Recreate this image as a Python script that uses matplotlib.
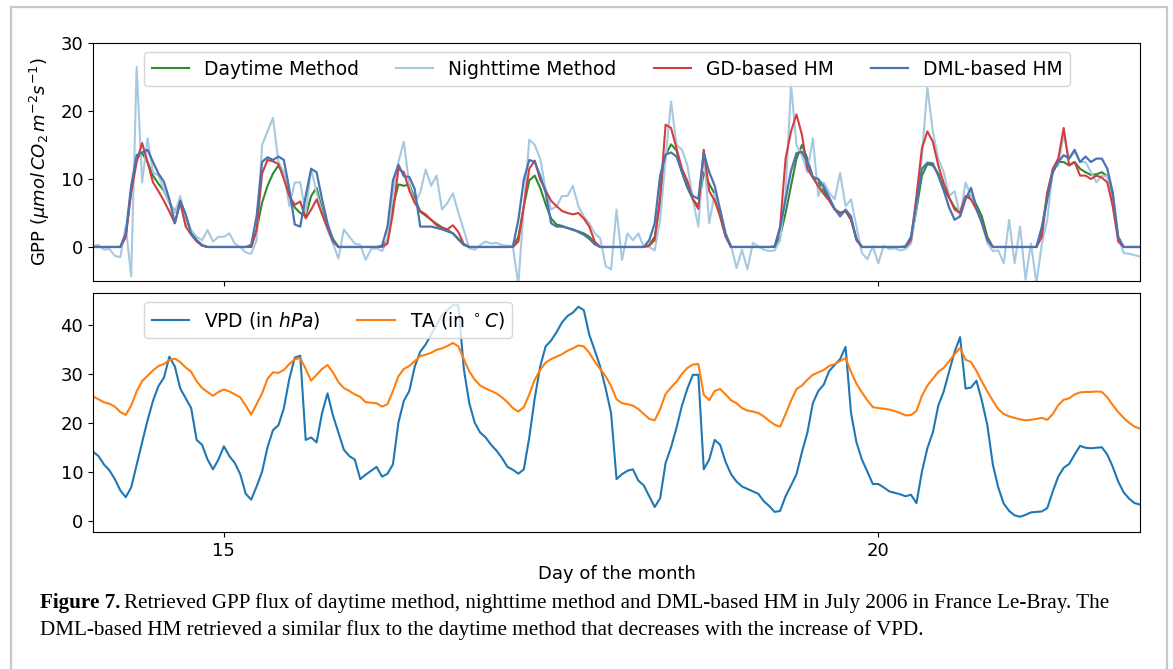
import numpy as np
import matplotlib
matplotlib.use("Agg")
import matplotlib.pyplot as plt
from matplotlib.patches import Rectangle

# hourly values, one row per day (14th ... 21st), last value = 22nd 00:00
daytime_gpp = [
    0, 0, 0, 0, 0, 0, 1.5, 8.5, 13, 13.8, 12.5, 10.5, 9.3, 8.3, 6.5, 5.2, 6.8, 4.5, 2.3, 1, 0.2, 0, 0, 0,
    0, 0, 0, 0, 0, 0, 2.5, 6.5, 9, 10.8, 12, 10.5, 7.5, 5.8, 5, 4.5, 7.5, 8.7, 5.5, 3, 1.2, 0, 0, 0,
    0, 0, 0, 0, 0, 0, 1, 6, 9.2, 9, 9.2, 7.2, 5.2, 4.6, 4, 3.4, 2.9, 2.5, 2, 1.1, 0.3, 0, 0, 0,
    0, 0, 0, 0, 0, 0, 1.5, 6, 9.8, 10.5, 8.7, 6.3, 4.2, 3.3, 3.1, 2.8, 2.5, 2.3, 2, 1.5, 0.6, 0, 0, 0,
    0, 0, 0, 0, 0, 0, 0.3, 1.5, 6.5, 13.5, 15.1, 14.2, 11, 8.7, 7, 6, 11, 9.3, 7.8, 4.5, 1.5, 0, 0, 0,
    0, 0, 0, 0, 0, 0, 1.5, 5, 9, 13, 15, 13, 10.2, 9.5, 8.3, 7, 5.6, 5, 5.3, 4, 1.2, 0, 0, 0,
    0, 0, 0, 0, 0, 0, 1, 5.5, 10.5, 12.2, 12, 10.8, 8.6, 7.2, 5.8, 5.2, 7.2, 7.6, 6.2, 4.5, 1.5, 0, 0, 0,
    0, 0, 0, 0, 0, 0, 2.5, 8, 11, 12.5, 12.5, 12, 12.5, 11.5, 11, 10.6, 10.7, 11, 10.4, 7, 1.2, 0, 0, 0,
    0]

nighttime_gpp = [
    0.2, 0.3, -0.4, -0.3, -1.3, -1.5, 3, -4.3, 26.5, 9.5, 16, 11, 10.5, 8.5, 6.5, 5, 7.5, 3.5, 2.5, 1.5, 1, 2.5, 0.8, 1.5,
    1.5, 2, 0.5, 0, -0.8, -1, 1, 15, 17, 19, 12.5, 11, 6, 9.5, 9.5, 5, 11.5, 8, 5, 2.5, 0.5, -1.7, 2.6, 1.5,
    0.5, 0.3, -1.9, -0.3, -0.2, -0.6, 1, 8, 12.5, 15.5, 9, 6.5, 8, 11.4, 9, 10.5, 5.5, 6.5, 7.9, 5, 2.5, -0.2, -0.4, 0.3,
    0.8, 0.5, 0.6, 0.3, 0.2, 0, -5.5, 6, 15.8, 15, 13, 8.5, 5.5, 6, 7.5, 7.5, 9, 6, 4.5, 3.5, 2, 1.3, -2.8, -3.3,
    5.5, -1.9, 2, 1, 2, 0, 0, -0.5, 4, 13, 21.4, 15, 14.3, 12, 7, 3, 14, 3.5, 7.9, 5.5, 1.5, 0.2, -3.1, -0.4,
    -3.3, 0.6, 0.1, -0.4, -0.6, -0.5, 1, 8, 23.9, 15, 13.5, 11, 16, 7.5, 9.5, 8, 7, 10.9, 6, 7, 3, -0.9, -1.8, 0.1,
    -2.4, 0.2, -0.3, -0.2, -0.5, -0.3, 0.5, 6, 13.3, 23.5, 17, 13, 11, 7.5, 8.2, 4.5, 9.5, 7.5, 5.5, 3.5, 0.6, -0.6, -0.5, -2.4,
    4, -2.4, 3, -4.8, 0.5, -5.3, 0.5, 4, 11.5, 12, 16.5, 13, 14, 12.5, 12.5, 11, 9.5, 10.5, 10.4, 6, 1.5, -0.9, -1.0, -1.2,
    -1.4]

gd_gpp = [
    0, 0, 0, 0, 0, 0, 1.5, 8, 12.5, 15.3, 12.5, 9.5, 8.2, 6.8, 5.2, 3.5, 6.5, 3, 1.8, 0.8, 0.2, 0, 0, 0,
    0, 0, 0, 0, 0, 0, 2.5, 10.8, 12.8, 12.6, 12.2, 10, 7.5, 6.2, 6.7, 4.2, 5.5, 7, 4.8, 2.8, 0.8, 0, 0, 0,
    0, 0, 0, 0, 0, 0, 0.5, 5, 11.5, 11, 8.3, 6.5, 5.3, 4.8, 4, 3.2, 2.8, 2.6, 3.2, 2.2, 0.4, 0, 0, 0,
    0, 0, 0, 0, 0, 0, 0.8, 6, 11.5, 12.7, 9.9, 8.3, 6.8, 6, 5.3, 5, 4.8, 5, 4.2, 3, 0.8, 0, 0, 0,
    0, 0, 0, 0, 0, 0, 0.2, 1, 7.5, 18, 17.5, 14.5, 11.5, 9.7, 7, 5.6, 14.3, 8.2, 6.8, 4.5, 1.6, 0, 0, 0,
    0, 0, 0, 0, 0, 0, 3, 13, 17, 19.5, 16.5, 11.5, 10.2, 8.9, 7.8, 6.8, 5.5, 5, 5.3, 4, 1.2, 0, 0, 0,
    0, 0, 0, 0, 0, 0, 1, 7.5, 14.5, 17, 15.5, 12, 9.4, 7.3, 5.5, 5, 7.5, 7, 5.5, 3.7, 1.2, 0, 0, 0,
    0, 0, 0, 0, 0, 0, 1.5, 8, 11.5, 13, 17.5, 12, 12.5, 10.5, 10.5, 10, 10.5, 10.2, 9.5, 6, 0.8, 0, 0, 0,
    0]

dml_gpp = [
    0, 0, 0, 0, 0, 0, 2, 9, 13.5, 13.9, 14.3, 12.5, 10.8, 9.6, 7, 3.5, 6.8, 4.8, 1.9, 1, 0.3, 0, 0, 0,
    0, 0, 0, 0, 0, 0.3, 4.5, 12.5, 13.2, 12.8, 13.3, 12.8, 8.5, 3.3, 3, 7.5, 11.5, 11, 7, 3.5, 1, 0, 0, 0,
    0, 0, 0, 0, 0, 0.2, 3, 9.8, 12.1, 10.4, 10.3, 8.5, 3, 3, 3, 2.8, 2.6, 2.3, 2, 1.2, 0.4, 0, 0, 0,
    0, 0, 0, 0, 0, 0.1, 4, 9.9, 12.8, 12.5, 10.5, 8, 3.5, 3, 3, 2.8, 2.6, 2.2, 1.8, 1.2, 0.4, 0, 0, 0,
    0, 0, 0, 0, 0, 0, 1, 3.5, 10.5, 13.6, 13.9, 13.3, 11, 8.8, 7.5, 7.1, 13.8, 11, 9, 5.5, 2, 0, 0, 0,
    0, 0, 0, 0, 0, 0.1, 2.8, 7, 11.2, 13.8, 14, 12.5, 10.3, 10, 8.9, 7.3, 5.6, 4.5, 5.5, 4.5, 1, 0, 0, 0,
    0, 0, 0, 0, 0, 0.1, 1.5, 6.5, 11.5, 12.4, 12.3, 10.5, 8.3, 5.8, 4, 4.5, 7, 8.7, 5.8, 3.5, 1, 0, 0, 0,
    0, 0, 0, 0, 0, 0, 3, 7, 11, 12.5, 13.5, 13, 14.3, 12.5, 13.3, 12.5, 13, 13, 11.5, 8, 1.5, 0, 0, 0,
    0]

vpd = [
    14.1, 13.2, 11.5, 10.3, 8.5, 6.2, 4.8, 6.8, 11.4, 16, 20.5, 24.5, 27.5, 29.2, 33.5, 31.5, 27, 25, 23, 16.5, 15.5, 12.5, 10.5, 12.5,
    15.2, 13.2, 11.8, 9.5, 5.5, 4.3, 7, 10, 15, 18.5, 19.5, 23, 29, 33.3, 33.7, 16.5, 17, 16, 22, 26, 21.5, 18, 14.5, 13.2,
    12.5, 8.5, 9.4, 10.2, 11, 9, 9.6, 11.5, 20, 24.5, 26.5, 31.5, 34.5, 36, 38, 40, 42, 43, 44, 44, 31, 24, 20, 18,
    17, 15.5, 14.3, 12.8, 11, 10.4, 9.6, 10.5, 17, 25, 31.5, 35.6, 36.8, 38.5, 40.5, 41.8, 42.5, 43.7, 43, 38, 34.8, 31.5, 27, 22,
    8.5, 9.5, 10.2, 10.5, 8.2, 7.2, 5, 2.8, 4.6, 11.8, 15, 19, 23.5, 27, 29.8, 29.8, 10.5, 12.5, 16.5, 15.5, 12, 9.5, 8, 7,
    6.5, 6, 5.5, 4, 3, 1.8, 2, 5, 7.2, 9.5, 14, 18, 24, 26.5, 27.8, 30.6, 31.8, 33, 35.5, 22, 16, 12.5, 10, 7.5,
    7.5, 6.8, 6, 5.7, 5.4, 5, 5.3, 3.6, 10, 14.8, 18, 23.5, 26.4, 30.5, 34.5, 37.5, 27, 27.2, 28.6, 24.5, 19.5, 11.5, 6.8, 3.5,
    2, 1.1, 0.8, 1.2, 1.7, 1.8, 1.9, 2.6, 6, 9, 10.8, 11.6, 13.5, 15.3, 14.9, 14.8, 14.9, 15, 13.5, 11, 8, 5.8, 4.5, 3.6,
    3.3]

ta = [
    25.4, 24.8, 24.2, 23.9, 23.3, 22.2, 21.6, 23.5, 26.4, 28.5, 29.6, 30.7, 31.6, 32, 32.8, 33.1, 32.4, 31.3, 30.4, 28.5, 27.1, 26.3, 25.5, 26.3,
    26.8, 26.4, 25.8, 25.2, 23.5, 21.7, 23.8, 26, 29, 30.3, 30.2, 30.8, 32, 33, 33.2, 31, 28.6, 29.8, 31, 31.8, 30.3, 28.3, 27.1, 26.5,
    25.8, 25.3, 24.2, 24.1, 24, 23.3, 23.8, 26.5, 29.5, 31, 31.6, 32.6, 33.6, 33.9, 34.3, 34.9, 35.2, 35.7, 36.3, 35.6, 33, 30.5, 28.8, 27.6,
    27, 26.5, 26, 25.2, 24.2, 23, 22.3, 23.2, 25.8, 28.8, 30.8, 32.3, 33, 33.5, 34, 34.7, 35.2, 35.8, 35.6, 34.3, 32.5, 31, 29.5, 27.5,
    24.8, 24, 23.8, 23.5, 22.8, 21.8, 20.8, 20.5, 22.8, 25.9, 27.2, 28.4, 30, 31.2, 31.9, 32, 25.7, 24.6, 26.5, 26.9, 25.8, 24.6, 24, 23,
    22.5, 22.3, 22, 21.3, 20.4, 19.6, 19.2, 21.8, 24.5, 26.9, 27.6, 28.8, 29.8, 30.3, 30.8, 31.6, 32, 32.6, 33.2, 30.4, 28, 26.2, 24.6, 23.2,
    23, 22.9, 22.7, 22.4, 22, 21.5, 21.6, 22.4, 25.5, 27.6, 29, 30.4, 31.2, 32.6, 34, 35.3, 32.9, 32.4, 30.6, 28.4, 26.4, 24.5, 22.8, 21.8,
    21.3, 21, 20.7, 20.5, 20.6, 20.8, 21, 20.6, 21.8, 23.6, 24.7, 25, 25.8, 26.2, 26.3, 26.3, 26.4, 26.3, 25.2, 23.6, 22.2, 21, 20, 19.2,
    18.8]

day = 14 + np.arange(len(dml_gpp)) / 24

plt.rcParams['font.size'] = 13

fig = plt.figure(figsize=(11.73, 6.69), dpi=100)
ax1 = fig.add_axes([0.0793, 0.5800, 0.8926, 0.3557])
ax2 = fig.add_axes([0.0793, 0.2048, 0.8926, 0.3572], sharex=ax1)

# --- GPP panel
ax1.plot(day, daytime_gpp, color='#2e8b2e', lw=1.5, label='Daytime Method')
ax1.plot(day, nighttime_gpp, color='#a5c9e1', lw=1.5, label='Nighttime Method')
ax1.plot(day, gd_gpp, color='#d43d3d', lw=1.5, label='GD-based HM')
ax1.plot(day, dml_gpp, color='#4c72b0', lw=1.6, label='DML-based HM')
ax1.set_ylim(-5, 30)
ax1.set_yticks([0, 10, 20, 30])
ax1.set_ylabel(r'GPP ($\mu mol\,CO_2\,m^{-2}s^{-1}$)', labelpad=6)
ax1.legend(ncol=4, loc='upper left', bbox_to_anchor=(0.040, 1.0), fontsize=13.4)
ax1.tick_params(axis='x', labelbottom=False)

# --- VPD / TA panel
ax2.plot(day, vpd, color='#1f77b4', lw=1.5, label='VPD (in $hPa$)')
ax2.plot(day, ta, color='#ff7f0e', lw=1.5, label=r'TA (in $^\circ C$)')
ax2.set_ylim(-2.3, 46.5)
ax2.set_yticks([0, 10, 20, 30, 40])
ax2.legend(ncol=2, loc='upper left', bbox_to_anchor=(0.040, 1.0), fontsize=13.4)
ax2.set_xlim(14, 22)
ax2.set_xticks([15, 20])
ax2.set_xlabel('Day of the month')

# page frame
fig.add_artist(Rectangle((0.0094, -0.02), 0.9855, 1.0095, transform=fig.transFigure,
                         fill=False, edgecolor='#c8c8c8', lw=1.6))

# caption
cap_x = 40 / 1173
cap_size = 15.2
t1 = fig.text(cap_x, 1 - 603 / 669, 'Figure 7.', family='Liberation Serif',
              weight='bold', fontsize=cap_size, va='center')
renderer = fig.canvas.get_renderer()
bb = t1.get_window_extent(renderer)
x_rest = (bb.x1 + 4) / fig.bbox.width
fig.text(x_rest, 1 - 603 / 669,
         'Retrieved GPP flux of daytime method, nighttime method and DML-based HM in July 2006 in France Le-Bray. The',
         family='Liberation Serif', fontsize=cap_size, va='center')
fig.text(cap_x, 1 - 630 / 669,
         'DML-based HM retrieved a similar flux to the daytime method that decreases with the increase of VPD.',
         family='Liberation Serif', fontsize=cap_size, va='center')

fig.savefig('out.png', dpi=100)
